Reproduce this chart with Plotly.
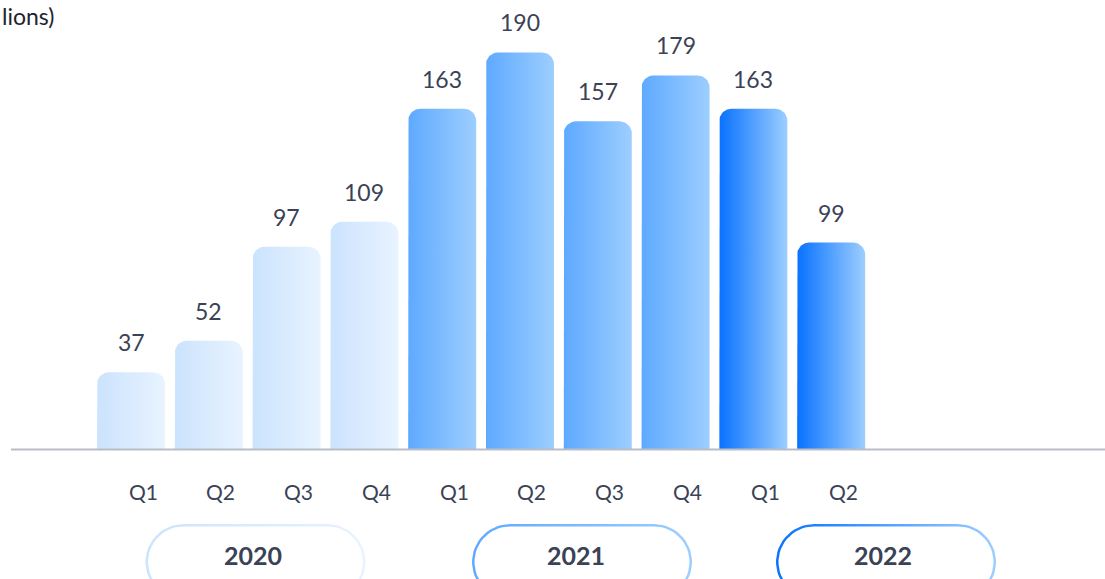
import numpy as np
import plotly.graph_objects as go

# ---------------- data ----------------
quarters = ["Q1", "Q2", "Q3", "Q4", "Q1", "Q2", "Q3", "Q4", "Q1", "Q2"]
years = ["2020", "2020", "2020", "2020", "2021", "2021", "2021", "2021", "2022", "2022"]
values = [37, 52, 97, 109, 163, 190, 157, 179, 163, 99]
year_labels = ["2020", "2021", "2022"]
unit_label = "lions)"

# ---------------- styles ----------------
W, H = 1105, 579
ZERO_PX = 449.5
SCALE = 2.09
X_RANGE = [-1.684, 12.52]
Y_RANGE = [-(H - ZERO_PX) / SCALE, ZERO_PX / SCALE]
PX_X = W / (X_RANGE[1] - X_RANGE[0])
PX_Y = H / (Y_RANGE[1] - Y_RANGE[0])
BAR_W = 0.874
RADIUS = 12
TEXT = "#3a4256"
FONT = "Lato"
year_colors = {
    "2020": ("#cbe3fd", "#e8f3ff"),
    "2021": ("#5ea9ff", "#9dceff"),
    "2022": ("#0872ff", "#9dceff"),
}
# year frame positions (pixels)
pill_cx = [255.5, 582, 886]
pill_w, pill_top, pill_h, pill_t = 220, 524, 76, 2.5
year_text_x = [253, 576, 883]


def rounded_bar(xc, v):
    x0, x1 = xc - BAR_W / 2, xc + BAR_W / 2
    rx, ry = RADIUS / PX_X, RADIUS / PX_Y
    xs, ys = [x0], [0]
    a = np.linspace(np.pi, np.pi / 2, 14)
    xs += list(x0 + rx + rx * np.cos(a)); ys += list(v - ry + ry * np.sin(a))
    a = np.linspace(np.pi / 2, 0, 14)
    xs += list(x1 - rx + rx * np.cos(a)); ys += list(v - ry + ry * np.sin(a))
    xs += [x1, x0]; ys += [0, 0]
    return xs, ys


def stadium(cx, top, w, h):
    r = h / 2
    left, right = cx - w / 2, cx + w / 2
    cy = top + r
    xs, ys = [], []
    a = np.linspace(-np.pi / 2, np.pi / 2, 30)
    xs += list(right - r + r * np.cos(a)); ys += list(cy + r * np.sin(a))
    a = np.linspace(np.pi / 2, 3 * np.pi / 2, 30)
    xs += list(left + r + r * np.cos(a)); ys += list(cy + r * np.sin(a))
    xs.append(xs[0]); ys.append(ys[0])
    return xs, ys


fig = go.Figure()

for i, (v, yr) in enumerate(zip(values, years)):
    xs, ys = rounded_bar(i, v)
    c0, c1 = year_colors[yr]
    fig.add_trace(go.Scatter(
        x=xs, y=ys, mode="lines", line=dict(width=0), fill="toself",
        fillgradient=dict(type="horizontal", colorscale=[[0, c0], [1, c1]],
                          start=i - BAR_W / 2, stop=i + BAR_W / 2),
        hoverinfo="skip", showlegend=False))

# year frames (gradient rings) on a pixel overlay axis
for k, yl in enumerate(year_labels):
    ox, oy = stadium(pill_cx[k], pill_top, pill_w, pill_h)
    ix, iy = stadium(pill_cx[k], pill_top + pill_t, pill_w - 2 * pill_t, pill_h - 2 * pill_t)
    xs = ox + ix[::-1] + [ox[0]]
    ys = oy + iy[::-1] + [oy[0]]
    c0, c1 = year_colors[yl]
    fig.add_trace(go.Scatter(
        x=xs, y=ys, xaxis="x2", yaxis="y2", mode="lines", line=dict(width=0),
        fill="toself",
        fillgradient=dict(type="horizontal", colorscale=[[0, c0], [1, c1]],
                          start=pill_cx[k] - pill_w / 2, stop=pill_cx[k] + pill_w / 2),
        hoverinfo="skip", showlegend=False))

annotations = []
for i, v in enumerate(values):
    annotations.append(dict(x=i, y=v, xref="x", yref="y", text=str(v), showarrow=False,
                            xanchor="center", yanchor="middle", yshift=30,
                            font=dict(family=FONT, size=23, color=TEXT)))
for i, q in enumerate(quarters):
    annotations.append(dict(x=i, y=1 - 491 / H, xref="x", yref="paper", text=q,
                            showarrow=False, xshift=12, xanchor="center", yanchor="middle",
                            font=dict(family=FONT, size=21, color=TEXT)))
for k, yl in enumerate(year_labels):
    annotations.append(dict(x=year_text_x[k] / W, y=1 - 555 / H, xref="paper", yref="paper",
                            text="<b>" + yl + "</b>", showarrow=False,
                            xanchor="center", yanchor="middle",
                            font=dict(family=FONT, size=25, color=TEXT)))
annotations.append(dict(x=0, y=1 - 16 / H, xref="paper", yref="paper", text=unit_label,
                        showarrow=False, xanchor="left", yanchor="middle",
                        font=dict(family=FONT, size=23, color="#1f2330")))

fig.update_layout(
    width=W, height=H, margin=dict(l=0, r=0, t=0, b=0),
    paper_bgcolor="white", plot_bgcolor="white",
    xaxis=dict(range=X_RANGE, visible=False, fixedrange=True),
    yaxis=dict(range=Y_RANGE, visible=False, fixedrange=True),
    xaxis2=dict(range=[0, W], visible=False, overlaying="x", anchor="y2"),
    yaxis2=dict(range=[H, 0], visible=False, overlaying="y", anchor="x2"),
    shapes=[dict(type="line", xref="paper", yref="y", x0=11 / W, x1=1, y0=0, y1=0,
                 line=dict(color="#b9bdc7", width=2), layer="above")],
    annotations=annotations,
    showlegend=False,
)

fig.write_html("out.html")
